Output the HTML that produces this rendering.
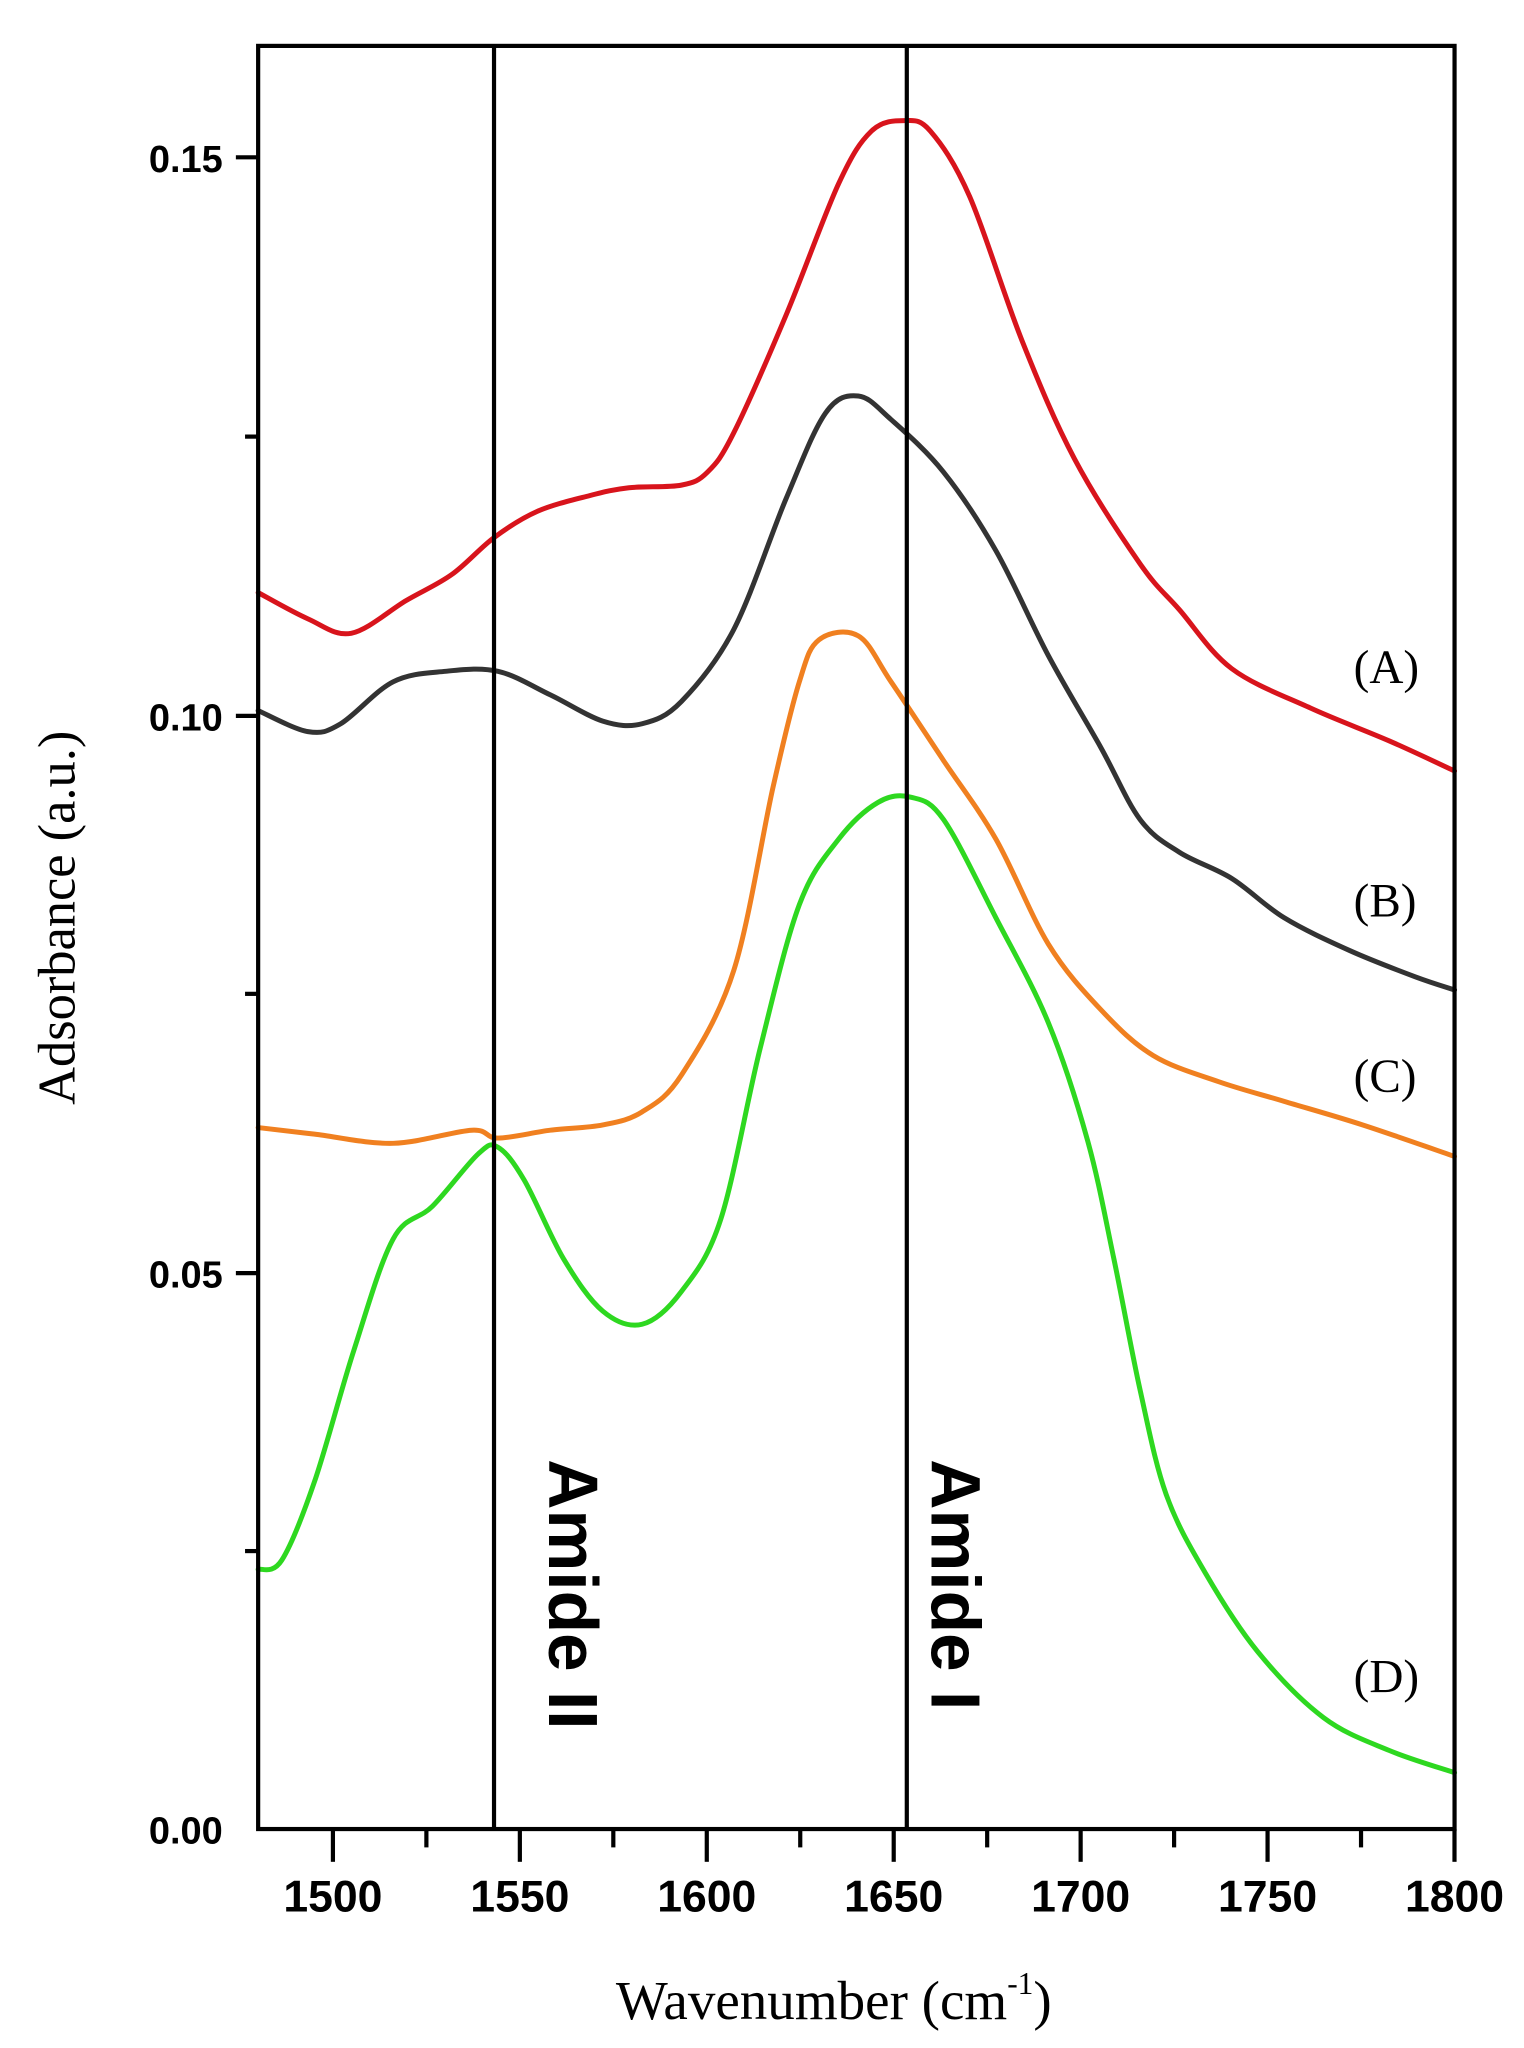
<!DOCTYPE html>
<html><head><meta charset="utf-8"><style>
html,body{margin:0;padding:0;background:#fff;}
svg{display:block;}
</style></head><body>
<svg id="s" width="1524" height="2048" viewBox="0 0 1163 1562" preserveAspectRatio="none" xmlns="http://www.w3.org/2000/svg">
<rect width="1163" height="1562" fill="#fff"/>
<g id="curves" fill="none" stroke-width="3.8" stroke-linejoin="round" stroke-linecap="round"></g>
<line x1="377" y1="35" x2="377" y2="1395" stroke="#000" stroke-width="3.2"/>
<line x1="692" y1="35" x2="692" y2="1395" stroke="#000" stroke-width="3.2"/>
<rect x="197" y="35" width="913" height="1360" fill="none" stroke="#000" stroke-width="3.2"/>
<g stroke="#000" stroke-width="3.2" id="ticks"></g>
<g font-family="Liberation Sans, sans-serif" font-weight="bold" font-size="29" text-anchor="end">
<text x="170" y="131">0.15</text>
<text x="170" y="557">0.10</text>
<text x="170" y="982">0.05</text>
<text x="170" y="1406">0.00</text>
</g>
<g font-family="Liberation Sans Narrow, Liberation Sans, sans-serif" font-weight="bold" font-size="34" text-anchor="middle" id="xl"></g>
<g font-family="Liberation Serif, serif" font-size="36">
<text x="1033" y="521">(A)</text>
<text x="1033" y="699">(B)</text>
<text x="1033" y="833">(C)</text>
<text x="1033" y="1291">(D)</text>
</g>
<g font-family="Liberation Sans, sans-serif" font-size="53" font-weight="bold">
<text transform="translate(419,1113) rotate(90)">Amide II</text>
<text transform="translate(711,1113) rotate(90)">Amide I</text>
</g>
<text font-family="Liberation Serif, serif" font-size="40" transform="translate(57,700) rotate(-90)" text-anchor="middle">Adsorbance (a.u.)</text>
<text font-family="Liberation Serif, serif" font-size="42" x="470" y="1540">Wavenumber (cm<tspan font-size="24" dy="-19">-1</tspan><tspan dy="19">)</tspan></text>
</svg>
<script>
var NS="http://www.w3.org/2000/svg";
function xp(w){return 197+(w-1480)*2.853;}
var t=document.getElementById('ticks'),xl=document.getElementById('xl');
function ln(x1,y1,x2,y2){var l=document.createElementNS(NS,'line');l.setAttribute('x1',x1);l.setAttribute('y1',y1);l.setAttribute('x2',x2);l.setAttribute('y2',y2);t.appendChild(l);}
for(var w=1500;w<=1800;w+=25){var x=xp(w);var maj=(w%50==0);ln(x,1395,x,1395+(maj?25:14));
 if(maj){var tx=document.createElementNS(NS,'text');tx.setAttribute('x',x);tx.setAttribute('y',1458);tx.textContent=w;xl.appendChild(tx);}}
[120,546,971].forEach(function(y){ln(180,y,197,y);});
[333,758,1183].forEach(function(y){ln(187,y,197,y);});
function path(p){var d="M"+p[0][0]+","+p[0][1];for(var i=0;i<p.length-1;i++){var p0=p[i-1]||p[i],p1=p[i],p2=p[i+1],p3=p[i+2]||p2;
 d+=" C"+(p1[0]+(p2[0]-p0[0])/6)+","+(p1[1]+(p2[1]-p0[1])/6)+" "+(p2[0]-(p3[0]-p1[0])/6)+","+(p2[1]-(p3[1]-p1[1])/6)+" "+p2[0]+","+p2[1];}return d;}
var S=[
["#d8141c",[[197,452],[235,472],[268,483],[310,458],[345,438],[377,410],[410,390],[450,378],[480,372],[520,370],[540,360],[560,330],[600,240],[640,140],[665,100],[690,92],[710,100],[740,150],[780,260],[820,350],[870,430],[900,465],[940,510],[1000,540],[1060,565],[1110,588]]],
["#333333",[[197,542],[235,558],[260,552],[300,520],[340,512],[380,512],[420,530],[460,550],[490,552],[520,535],[560,480],[600,380],[630,315],[655,302],[680,320],[720,360],[760,420],[800,500],[840,570],[870,625],[900,650],[940,670],[980,700],[1030,725],[1080,745],[1110,755]]],
["#f08020",[[197,860],[240,865],[300,872],[360,862],[380,868],[420,862],[460,858],[490,848],[520,820],[560,740],[590,600],[610,520],[625,488],[655,485],[680,520],[720,580],[760,640],[800,720],[840,770],[880,805],[930,825],[980,840],[1040,858],[1110,882]]],
["#2ed820",[[197,1197],[215,1190],[240,1130],[270,1030],[300,945],[330,920],[365,880],[380,875],[400,900],[430,960],[460,1000],[490,1010],[520,985],[550,930],[580,800],[610,690],[640,640],[670,612],[695,608],[720,625],[760,700],[800,780],[830,870],[850,960],[870,1060],[890,1140],[920,1200],[960,1260],[1010,1310],[1060,1335],[1110,1352]]]
];
var g=document.getElementById('curves');
S.forEach(function(s){var p=document.createElementNS(NS,'path');p.setAttribute('d',path(s[1]));p.setAttribute('stroke',s[0]);g.appendChild(p);});
</script>
</body></html>
